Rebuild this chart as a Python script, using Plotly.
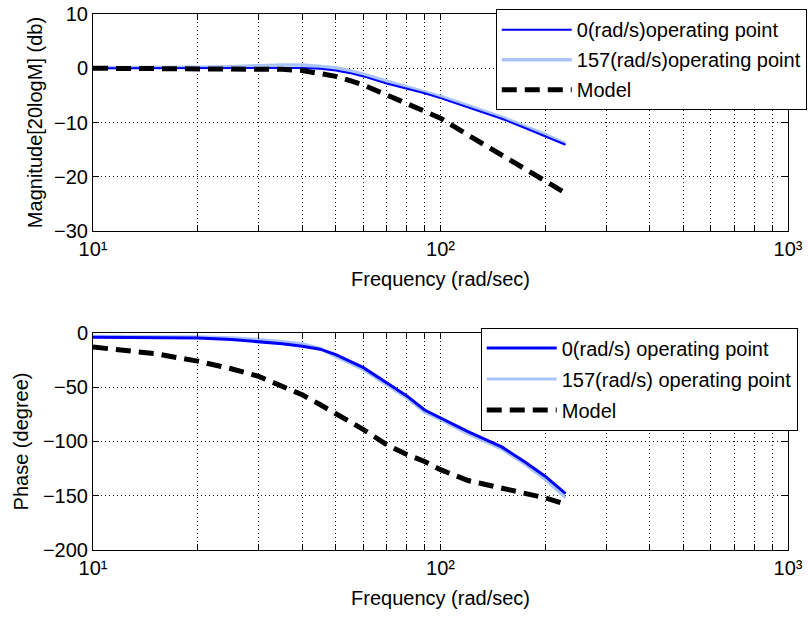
import plotly.graph_objects as go

# ---------------- data ----------------
freq_meas = [10, 15, 20, 25, 30, 35, 40, 45, 50, 55, 60, 70, 80, 90, 100, 120, 150, 175, 200, 229]
freq_model = [10, 15, 20, 25, 30, 35, 40, 45, 50, 55, 60, 70, 80, 90, 100, 120, 150, 175, 200, 225]

mag_op0 = [0, 0, 0.05, 0.1, 0.1, 0.1, 0.05, -0.1, -0.4, -0.9, -1.5, -2.8, -3.7, -4.6, -5.5, -7.2, -9.3, -11.0, -12.5, -14.1]
mag_op157 = [0.1, 0.1, 0.2, 0.3, 0.5, 0.6, 0.6, 0.4, 0.1, -0.5, -1.1, -2.4, -3.4, -4.3, -5.2, -6.9, -9.0, -10.7, -12.2, -13.9]
mag_model = [0, 0, 0, 0, -0.1, -0.2, -0.4, -0.9, -1.5, -2.3, -3.1, -4.9, -6.5, -7.9, -9.2, -12.3, -15.9, -18.4, -20.7, -22.7]

ph_op0 = [-4, -4.3, -4.6, -6, -8, -10, -12.3, -15, -20, -26, -32, -46, -58, -71, -78.5, -91, -105, -119, -132, -148]
ph_op157 = [-3, -3, -3.5, -4.5, -6, -8, -10, -14, -22, -28, -34, -48, -60, -73, -80, -93, -107, -121, -135, -152]
ph_model = [-13, -19, -26, -33, -40, -49, -57, -66, -74, -82, -89, -103, -112, -118.5, -126, -136, -143, -148, -152, -157]

major_ticks = [10, 100, 1000]
major_text = ["10¹", "10²", "10³"]
minor_ticks = [20, 30, 40, 50, 60, 70, 80, 90, 200, 300, 400, 500, 600, 700, 800, 900]
mag_ticks = [-30, -20, -10, 0, 10]
ph_ticks = [-200, -150, -100, -50, 0]

names_top = ["0(rad/s)operating point", "157(rad/s)operating point", "Model"]
names_bot = ["0(rad/s) operating point", "157(rad/s) operating point", "Model"]

BLUE = "#0000ff"
LIGHT = "#a9c4fb"
FONT = "Liberation Sans"
FS = 20

fig = go.Figure()

# top: magnitude
fig.add_trace(go.Scatter(x=freq_meas, y=mag_op157, mode="lines", name=names_top[1],
                         line=dict(color=LIGHT, width=3.5), xaxis="x", yaxis="y",
                         legend="legend", legendrank=2, legendgroup="t2"))
fig.add_trace(go.Scatter(x=freq_meas, y=mag_op0, mode="lines", name=names_top[0],
                         line=dict(color=BLUE, width=2), xaxis="x", yaxis="y",
                         legend="legend", legendrank=1, legendgroup="t1"))
fig.add_trace(go.Scatter(x=freq_model, y=mag_model, mode="lines", name=names_top[2],
                         line=dict(color="black", width=5, dash="15px,8px"), xaxis="x", yaxis="y",
                         legend="legend", legendrank=3, legendgroup="t3"))

# bottom: phase
fig.add_trace(go.Scatter(x=freq_meas, y=ph_op157, mode="lines", name=names_bot[1],
                         line=dict(color=LIGHT, width=3), xaxis="x2", yaxis="y2",
                         legend="legend2", legendrank=2, legendgroup="b2"))
fig.add_trace(go.Scatter(x=freq_meas, y=ph_op0, mode="lines", name=names_bot[0],
                         line=dict(color=BLUE, width=3), xaxis="x2", yaxis="y2",
                         legend="legend2", legendrank=1, legendgroup="b1"))
fig.add_trace(go.Scatter(x=freq_model, y=ph_model, mode="lines", name=names_bot[2],
                         line=dict(color="black", width=5, dash="15px,8px"), xaxis="x2", yaxis="y2",
                         legend="legend2", legendrank=3, legendgroup="b3"))

GRID = dict(showgrid=True, gridcolor="#111", griddash="1px,3px", gridwidth=1)


def xaxis(domain_anchor):
    return dict(type="log", range=[1, 3], anchor=domain_anchor,
                tickmode="array", tickvals=major_ticks, ticktext=major_text,
                ticks="inside", ticklen=6, tickcolor="black",
                showline=True, linecolor="black", linewidth=1, mirror="ticks",
                zeroline=False, tickfont=dict(family=FONT, size=FS, color="black"),
                title=dict(text="Frequency (rad/sec)", font=dict(family=FONT, size=FS, color="black"),
                           standoff=12),
                minor=dict(tickmode="array", tickvals=minor_ticks, ticks="inside", ticklen=6,
                           tickcolor="black", **GRID),
                **GRID)


def yaxis(domain, rng, ticks, title, anchor, standoff):
    return dict(domain=domain, range=rng, anchor=anchor, tickmode="array", tickvals=ticks,
                ticks="inside", ticklen=6, tickcolor="black",
                showline=True, linecolor="black", linewidth=1, mirror="ticks",
                zeroline=False, tickfont=dict(family=FONT, size=FS, color="black"),
                title=dict(text=title, font=dict(family=FONT, size=FS, color="black"), standoff=standoff),
                **GRID)


legend_common = dict(bgcolor="white", bordercolor="black", borderwidth=1,
                     font=dict(family=FONT, size=FS, color="black"),
                     xanchor="right", yanchor="top", itemwidth=70)

fig.update_layout(
    width=808, height=621,
    margin=dict(l=93, r=20, t=14, b=71, autoexpand=False),
    paper_bgcolor="white", plot_bgcolor="white",
    xaxis=xaxis("y"),
    xaxis2=xaxis("y2"),
    yaxis=yaxis([0.595, 1.0], [-30, 10], mag_ticks, "Magnitude[20logM] (db)", "x", 6),
    yaxis2=yaxis([0.0, 0.405], [-200, 0], ph_ticks, "Phase (degree)", "x2", 8),
    legend=dict(x=1.027, y=1.009, tracegroupgap=1, **legend_common),
    legend2=dict(x=1.014, y=0.415, tracegroupgap=2, **legend_common),
    showlegend=True,
)

fig.write_html("out.html")
